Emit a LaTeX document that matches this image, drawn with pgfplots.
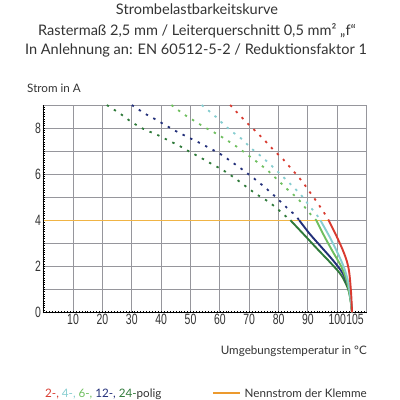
\documentclass[border=0pt]{standalone}
\usepackage{fontspec}
\setmainfont{Lato}
\newfontfamily\arial{Liberation Sans}
\usepackage{graphicx}
\usepackage{pgfplots}
\pgfplotsset{compat=1.18}
\definecolor{txt}{HTML}{333333}
\definecolor{gridc}{RGB}{150,150,156}
\definecolor{cRed}{HTML}{D93A2F}
\definecolor{cCyan}{HTML}{86CDD0}
\definecolor{cLGreen}{HTML}{6FBF5F}
\definecolor{cDBlue}{HTML}{23307A}
\definecolor{cDGreen}{HTML}{2F7A3A}
\definecolor{cOrange}{HTML}{F0B445}
\definecolor{cOrangeL}{HTML}{EC9A2E}
\newcommand\tl[1]{\scalebox{0.7}[1]{\arial\fontsize{15}{15}\selectfont #1}}
\begin{document}
\begin{tikzpicture}[x=1bp,y=1bp]
\useasboundingbox (0,0) rectangle (400,400);
\begin{scope}[font=\fontsize{14.6}{14.6}\selectfont, text=txt]
\node[anchor=base] at (197,386) {Strombelastbarkeitskurve};
\node[anchor=base] at (197,365) {Rastermaß 2,5 mm / Leiterquerschnitt 0,5 mm² „f“};
\node[anchor=base] at (196,345.7) {In Anlehnung an: EN 60512-5-2 / Reduktionsfaktor 1};
\end{scope}
\begin{scope}[font=\fontsize{11.7}{11.7}\selectfont, text=txt]
\node[anchor=base west, inner sep=0] at (27,307.3) {Strom in A};
\node[anchor=base east, inner sep=0] at (367,46) {Umgebungstemperatur in °C};
\node[anchor=base west, inner sep=0] at (45,2.5) {\textcolor{cRed}{2-,} \textcolor{cCyan}{4-,} \textcolor{cLGreen}{6-,} \textcolor{cDBlue}{12-,} \textcolor{cDGreen}{24-}polig};
\node[anchor=base east, inner sep=0] at (367,2.5) {Nennstrom der Klemme};
\end{scope}
\draw[cOrangeL, line width=1.6bp] (213,7) -- (240,7);
\begin{axis}[at={(43.7bp,87.7bp)}, anchor=south west, scale only axis,
  width=323bp, height=207.3bp,
  xmin=0, xmax=110, ymin=0, ymax=9,
  axis line style={draw=gridc, line width=1bp},
  xtick pos=bottom, ytick pos=left,
  xtick={0,10,...,110},
  xticklabels={,\tl{10},\tl{20},\tl{30},\tl{40},\tl{50},\tl{60},\tl{70},\tl{80},\tl{90},\tl{100},},
  extra x ticks={105}, extra x tick labels={\tl{105}},
  extra x tick style={grid=none, xticklabel style={xshift=3bp}},
  ytick={0,1,...,9},
  yticklabels={\tl{0},,\tl{2},,\tl{4},,\tl{6},,\tl{8},},
  minor x tick num=9, minor y tick num=9,
  grid=major,
  major grid style={draw=gridc, line width=1bp},
  tick align=center,
  tick style={black, line width=0.5bp},
  major tick length=2bp, minor tick length=2bp,
  xticklabel style={text=txt, inner sep=1bp},
  yticklabel style={text=txt, inner sep=1.5bp},
  clip=false,
]
\addplot[black, line width=0.7bp, forget plot] coordinates {(0,9) (0,0) (110,0)};
\addplot[cOrange, line width=1.3bp] coordinates {(0,4) (97,4)};
% dotted parts
\addplot[cDGreen, line width=1.8bp, dash pattern=on 2.4bp off 6bp, smooth] coordinates {
(21.5,9.0) (26.3,8.6) (29.5,8.3) (33.8,7.97) (38.4,7.72) (42.7,7.45) (46.3,7.22) (49.7,6.97) (53.4,6.72) (56.8,6.47) (60,6.25) (62.8,6.03) (66,5.74) (69.1,5.44) (72.3,5.14) (75.7,4.87) (78.8,4.58) (81.7,4.25) (84,4.0)};
\addplot[cDBlue, line width=1.8bp, dash pattern=on 2.4bp off 6bp, smooth] coordinates {
(30,9.0) (34.3,8.64) (38,8.38) (41.8,8.1) (45.4,7.84) (49.2,7.6) (53,7.36) (56.6,7.12) (60.3,6.86) (63.7,6.56) (67.1,6.25) (70.5,5.92) (73.7,5.6) (76.8,5.26) (79.9,4.9) (82.9,4.53) (85.6,4.22) (87,4.0)};
\addplot[cLGreen, line width=1.8bp, dash pattern=on 2.4bp off 6bp, smooth] coordinates {
(43.5,9.0) (47.7,8.6) (51.7,8.28) (55,8.02) (58.6,7.77) (62.3,7.48) (65.4,7.22) (68.8,6.9) (71.9,6.6) (75.3,6.26) (77.4,6.03) (80.2,5.68) (83.3,5.3) (86.5,4.94) (88.7,4.6) (91,4.24) (92.8,4.0)};
\addplot[cCyan, line width=1.8bp, dash pattern=on 2.4bp off 6bp, smooth] coordinates {
(53.8,9.0) (58,8.56) (60.8,8.22) (63.9,7.87) (67.7,7.5) (70.5,7.14) (74,6.78) (77.4,6.39) (79.9,6.08) (82.5,5.76) (85.2,5.42) (88.2,5.01) (90.5,4.62) (92.8,4.26) (94.2,4.0)};
\addplot[cRed, line width=1.8bp, dash pattern=on 2.4bp off 6bp, smooth] coordinates {
(63.5,9.0) (67,8.52) (70,8.13) (72.5,7.82) (75,7.5) (78.2,7.06) (81.7,6.62) (84,6.28) (86.5,5.92) (88.5,5.6) (90.5,5.24) (93.2,4.76) (95.5,4.32) (97,4.0)};
% solid parts
\addplot[cDGreen, line width=1.9bp, smooth] coordinates {
(84,4.0) (88.8,3.35) (93.4,2.72) (97.9,2.12) (101.4,1.6) (103.7,1.0) (104.6,0.45) (105,0)};
\addplot[cDBlue, line width=1.9bp, smooth] coordinates {
(87,4.0) (90.5,3.42) (94.5,2.84) (98.5,2.26) (102,1.66) (104,0.96) (104.7,0.4) (105,0)};
\addplot[cLGreen, line width=1.9bp, smooth] coordinates {
(92.8,4.0) (95.7,3.27) (98.5,2.62) (101.4,1.97) (103.3,1.32) (104.4,0.6) (105,0)};
\addplot[cCyan, line width=1.9bp, smooth] coordinates {
(94.2,4.0) (97.4,3.27) (100.2,2.55) (102.4,1.9) (103.8,1.25) (104.6,0.5) (105,0)};
\addplot[cRed, line width=1.9bp, smooth] coordinates {
(97,4.0) (99.3,3.42) (101.8,2.72) (103.3,2.19) (104.1,1.68) (104.7,0.81) (105,0)};
\end{axis}
\end{tikzpicture}
\end{document}
